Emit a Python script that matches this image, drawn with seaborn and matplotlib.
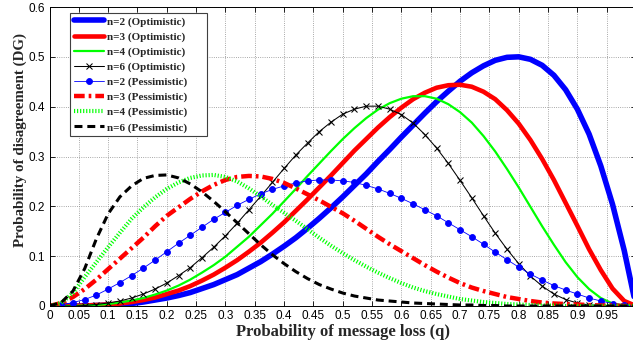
import matplotlib
matplotlib.use("Agg")
import matplotlib.pyplot as plt
from matplotlib.font_manager import FontProperties
import seaborn as sns

# ---------------- data ----------------
q = [0.00, 0.02, 0.04, 0.06, 0.08, 0.10, 0.12, 0.14, 0.16, 0.18,
     0.20, 0.22, 0.24, 0.26, 0.28, 0.30, 0.32, 0.34, 0.36, 0.38,
     0.40, 0.42, 0.44, 0.46, 0.48, 0.50, 0.52, 0.54, 0.56, 0.58,
     0.60, 0.62, 0.64, 0.66, 0.68, 0.70, 0.72, 0.74, 0.76, 0.78,
     0.80, 0.82, 0.84, 0.86, 0.88, 0.90, 0.92, 0.94, 0.96, 0.98, 1.00]

opt_n2 = [0.000, 0.000, 0.000, 0.000, 0.001, 0.002, 0.003, 0.005, 0.008, 0.012,
          0.016, 0.021, 0.027, 0.035, 0.043, 0.053, 0.063, 0.076, 0.089, 0.104,
          0.120, 0.137, 0.156, 0.176, 0.197, 0.219, 0.242, 0.265, 0.290, 0.314,
          0.339, 0.363, 0.387, 0.410, 0.431, 0.451, 0.468, 0.482, 0.493, 0.499,
          0.500, 0.495, 0.483, 0.463, 0.434, 0.395, 0.345, 0.281, 0.204, 0.111, 0.000]

opt_n3 = [0.000, 0.000, 0.000, 0.001, 0.002, 0.003, 0.005, 0.008, 0.012, 0.017,
          0.024, 0.031, 0.040, 0.051, 0.063, 0.077, 0.092, 0.109, 0.127, 0.147,
          0.168, 0.191, 0.214, 0.238, 0.262, 0.287, 0.312, 0.335, 0.358, 0.379,
          0.398, 0.415, 0.428, 0.438, 0.443, 0.444, 0.440, 0.430, 0.415, 0.393,
          0.366, 0.333, 0.295, 0.253, 0.207, 0.161, 0.114, 0.072, 0.035, 0.010, 0.000]

opt_n4 = [0.000, 0.000, 0.000, 0.001, 0.002, 0.004, 0.007, 0.011, 0.016, 0.023,
          0.031, 0.041, 0.053, 0.067, 0.082, 0.099, 0.119, 0.139, 0.162, 0.185,
          0.210, 0.235, 0.261, 0.286, 0.311, 0.335, 0.357, 0.377, 0.394, 0.407,
          0.416, 0.421, 0.421, 0.416, 0.405, 0.389, 0.368, 0.341, 0.310, 0.275,
          0.238, 0.199, 0.160, 0.123, 0.088, 0.058, 0.034, 0.016, 0.005, 0.001, 0.000]

opt_n6 = [0.000, 0.000, 0.000, 0.001, 0.003, 0.006, 0.010, 0.016, 0.024, 0.034,
          0.046, 0.061, 0.077, 0.097, 0.118, 0.141, 0.166, 0.193, 0.220, 0.248,
          0.276, 0.303, 0.327, 0.350, 0.369, 0.385, 0.395, 0.401, 0.401, 0.395,
          0.384, 0.367, 0.344, 0.317, 0.286, 0.252, 0.217, 0.181, 0.146, 0.114,
          0.085, 0.060, 0.040, 0.024, 0.013, 0.006, 0.002, 0.001, 0.000, 0.000, 0.000]

pess_n2 = [0.000, 0.002, 0.007, 0.013, 0.022, 0.034, 0.047, 0.061, 0.076, 0.092,
           0.109, 0.126, 0.142, 0.158, 0.174, 0.188, 0.202, 0.214, 0.225, 0.234,
           0.241, 0.247, 0.251, 0.253, 0.253, 0.251, 0.248, 0.242, 0.235, 0.226,
           0.216, 0.205, 0.193, 0.181, 0.167, 0.153, 0.139, 0.124, 0.108, 0.093,
           0.078, 0.064, 0.052, 0.041, 0.032, 0.024, 0.016, 0.010, 0.005, 0.002, 0.000]

pess_n3 = [0.000, 0.006, 0.018, 0.034, 0.053, 0.074, 0.095, 0.116, 0.137, 0.160,
           0.181, 0.198, 0.215, 0.230, 0.243, 0.253, 0.259, 0.261, 0.260, 0.255,
           0.247, 0.236, 0.224, 0.212, 0.199, 0.186, 0.171, 0.155, 0.139, 0.124,
           0.110, 0.096, 0.082, 0.069, 0.057, 0.046, 0.037, 0.030, 0.024, 0.018,
           0.014, 0.010, 0.007, 0.005, 0.004, 0.003, 0.002, 0.001, 0.001, 0.000, 0.000]

pess_n4 = [0.000, 0.006, 0.026, 0.058, 0.088, 0.118, 0.147, 0.175, 0.198, 0.218,
           0.235, 0.248, 0.257, 0.262, 0.263, 0.259, 0.250, 0.236, 0.220, 0.203,
           0.187, 0.171, 0.154, 0.137, 0.121, 0.106, 0.092, 0.079, 0.067, 0.056,
           0.046, 0.037, 0.030, 0.024, 0.019, 0.014, 0.011, 0.008, 0.006, 0.004,
           0.003, 0.002, 0.001, 0.001, 0.000, 0.000, 0.000, 0.000, 0.000, 0.000, 0.000]

pess_n6 = [0.000, 0.007, 0.030, 0.075, 0.135, 0.185, 0.219, 0.241, 0.256, 0.262,
           0.263, 0.257, 0.245, 0.229, 0.210, 0.189, 0.167, 0.145, 0.123, 0.103,
           0.085, 0.069, 0.055, 0.043, 0.034, 0.026, 0.020, 0.016, 0.012, 0.010,
           0.008, 0.006, 0.005, 0.004, 0.003, 0.002, 0.002, 0.001, 0.001, 0.000,
           0.000, 0.000, 0.000, 0.000, 0.000, 0.000, 0.000, 0.000, 0.000, 0.000, 0.000]

labels = ["n=2 (Optimistic)", "n=3 (Optimistic)", "n=4 (Optimistic)", "n=6 (Optimistic)",
          "n=2 (Pessimistic)", "n=3 (Pessimistic)", "n=4 (Pessimistic)", "n=6 (Pessimistic)"]

xtick_values = [0, 0.05, 0.1, 0.15, 0.2, 0.25, 0.3, 0.35, 0.4, 0.45,
                0.5, 0.55, 0.6, 0.65, 0.7, 0.75, 0.8, 0.85, 0.9, 0.95]
xtick_labels = ["0", "0.05", "0.1", "0.15", "0.2", "0.25", "0.3", "0.35", "0.4", "0.45",
                "0.5", "0.55", "0.6", "0.65", "0.7", "0.75", "0.8", "0.85", "0.9", "0.95"]
ytick_values = [0, 0.1, 0.2, 0.3, 0.4, 0.5, 0.6]
ytick_labels = ["0", "0.1", "0.2", "0.3", "0.4", "0.5", "0.6"]

# ---------------- styling ----------------
sns.set_style("ticks")
plt.rcParams["font.family"] = ["Liberation Sans", "DejaVu Sans"]

fig = plt.figure(figsize=(6.33, 3.47), dpi=100)
ax = fig.add_axes([49.5 / 633, 41 / 347, (636 - 49.5) / 633, 299 / 347])

styles = [
    dict(color="#0000FF", linewidth=4.0, linestyle="-"),
    dict(color="#FF0000", linewidth=3.3, linestyle="-"),
    dict(color="#00FF00", linewidth=1.6, linestyle="-"),
    dict(color="black", linewidth=0.75, linestyle="-", marker="x",
         markersize=4.5, markeredgewidth=0.75, markeredgecolor="black"),
    dict(color="#0000FF", linewidth=0.6, linestyle="-", marker="o",
         markersize=4.3, markeredgewidth=0.6, markeredgecolor="#0000FF",
         markerfacecolor="#0000FF"),
    dict(color="#FF0000", linewidth=3.2, linestyle=(0, (2.4, 0.9, 0.6, 0.9))),
    dict(color="#00FF00", linewidth=3.0, linestyle=(0, (0.28, 0.45))),
    dict(color="black", linewidth=2.2, linestyle=(0, (2.6, 1.6))),
]
series = [opt_n2, opt_n3, opt_n4, opt_n6, pess_n2, pess_n3, pess_n4, pess_n6]

for vals, lab, st in zip(series, labels, styles):
    sns.lineplot(x=q, y=vals, ax=ax, label=lab, errorbar=None, sort=False, **st)

ax.set_xlim(0, 1)
ax.set_ylim(0, 0.6)
ax.set_xticks(xtick_values)
ax.set_xticklabels(xtick_labels)
ax.set_yticks(ytick_values)
ax.set_yticklabels(ytick_labels)
ax.tick_params(direction="in", length=3.5, width=0.6, top=True, right=True,
               labelsize=8.5, pad=3, colors="black")
ax.grid(True, linestyle=":", color="#8c8c8c", linewidth=0.6)
ax.set_axisbelow(True)
for sp in ax.spines.values():
    sp.set_visible(True)
    sp.set_color("black")
    sp.set_linewidth(0.7)

ax.set_xlabel("Probability of message loss (q)",
              fontdict=dict(family="Liberation Serif", weight="bold", size=12),
              labelpad=1.5)
ax.set_ylabel("Probability of disagreement (DG)",
              fontdict=dict(family="Liberation Serif", weight="bold", size=10.8))
ax.yaxis.set_label_coords(-0.039, 0.555)

leg_w = 137 / 633
leg_h = 125.6 / 347
leg = ax.legend(loc="upper left",
                bbox_to_anchor=(70 / 633, 1 - 12.7 / 347 - leg_h, leg_w, leg_h),
                bbox_transform=fig.transFigure, borderaxespad=0, mode="expand",
                prop=FontProperties(family="Liberation Serif", weight="bold", size=8),
                frameon=True, fancybox=False, framealpha=1, edgecolor="#404040",
                handlelength=2.7, handletextpad=0.25, labelspacing=0.46,
                borderpad=0.35, numpoints=1)
leg.get_frame().set_linewidth(0.8)

fig.savefig("out.png", dpi=100)
